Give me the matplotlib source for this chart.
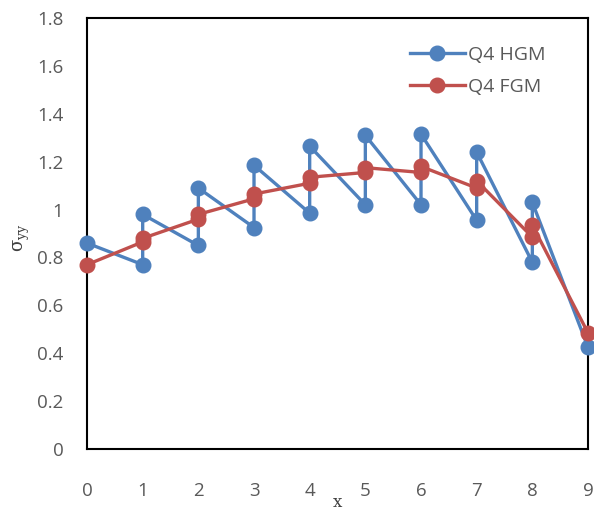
import matplotlib
matplotlib.use("Agg")
import matplotlib.pyplot as plt

hgm_x = [0, 1, 1, 2, 2, 3, 3, 4, 4, 5, 5, 6, 6, 7, 7, 8, 8, 9]
hgm_y = [0.86, 0.77, 0.98, 0.85, 1.09, 0.925, 1.185, 0.985, 1.265, 1.02, 1.31,
         1.02, 1.315, 0.955, 1.24, 0.78, 1.03, 0.425]
fgm_x = [0, 1, 1, 2, 2, 3, 3, 4, 4, 5, 5, 6, 6, 7, 7, 8, 8, 9]
fgm_y = [0.77, 0.865, 0.88, 0.96, 0.98, 1.045, 1.065, 1.11, 1.135, 1.155, 1.175,
         1.155, 1.18, 1.09, 1.12, 0.885, 0.935, 0.485]
x_ticks = list(range(10))
y_ticks = [0, 0.2, 0.4, 0.6, 0.8, 1, 1.2, 1.4, 1.6, 1.8]
y_labels = ["0", "0.2", "0.4", "0.6", "0.8", "1", "1.2", "1.4", "1.6", "1.8"]

plt.rcParams['font.family'] = ['Open Sans', 'DejaVu Sans']
fig = plt.figure(figsize=(5.94, 5.12), dpi=100)
ax = fig.add_axes([0.1465, 0.123, 0.8434, 0.8418])

blue = '#4F81BD'
red = '#C0504D'
ax.plot(hgm_x, hgm_y, color=blue, lw=2.4, marker='o', ms=10.5, label='Q4 HGM', clip_on=False, zorder=3)
ax.plot(fgm_x, fgm_y, color=red, lw=2.4, marker='o', ms=10.5, label='Q4 FGM', clip_on=False, zorder=4)

ax.set_xlim(0, 9)
ax.set_ylim(0, 1.8)
ax.set_xticks(x_ticks)
ax.set_yticks(y_ticks)
ax.set_yticklabels(y_labels)
ax.tick_params(length=0, labelsize=13.5, colors='#595959')
ax.tick_params(axis='y', pad=17)
ax.tick_params(axis='x', pad=24)
for s in ax.spines.values():
    s.set_color('black')
    s.set_linewidth(1.5)

ax.set_xlabel('x', family='DejaVu Serif', fontsize=12, color='#404040', va='center')
ax.xaxis.set_label_coords(0.5, -0.123)
ax.set_ylabel(r'$\mathregular{\sigma_{yy}}$', family='DejaVu Serif', fontsize=13, color='#404040', va='center')
ax.yaxis.set_label_coords(-0.13, 0.49)

leg = ax.legend(loc='upper left', bbox_to_anchor=(0.645, 0.935), frameon=False, borderpad=0,
                borderaxespad=0, fontsize=14, handlelength=2.8, labelspacing=0.7, handletextpad=0.2)
for t in leg.get_texts():
    t.set_color('#595959')

fig.savefig('out.png', dpi=100)
